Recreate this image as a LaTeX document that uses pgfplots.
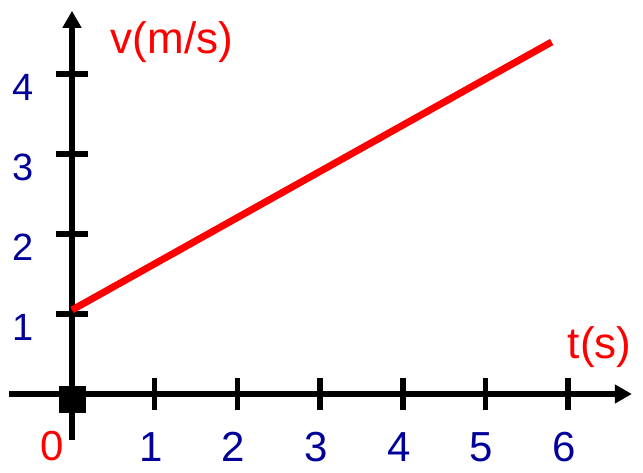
\documentclass[border=0pt]{standalone}
\usepackage{fontspec}
\setmainfont{Liberation Sans}
\usepackage{pgfplots}
\pgfplotsset{compat=1.18}
\usetikzlibrary{arrows.meta}
\definecolor{tickblue}{RGB}{0,0,153}
\begin{document}
\begin{tikzpicture}
\begin{axis}[
  x=82.7pt, y=80pt,
  anchor=origin, at={(0pt,0pt)},
  axis lines=middle,
  xmin=-0.762, xmax=6.77, ymin=-0.575, ymax=4.79,
  axis line style={line width=6pt, black},
  every inner x axis line/.append style={-{Triangle[width=18pt,length=17pt]}},
  every inner y axis line/.append style={-{Triangle[width=18pt,length=17pt]}},
  xtick={1,2,3,4,5,6}, ytick={1,2,3,4},
  tick style={line width=5.5pt, black},
  major tick length=32pt,
  tick align=center,
  /pgf/number format/assume math mode=true,
  xticklabel style={anchor=center, inner sep=0pt, xshift=-4pt, yshift=-37pt, text=tickblue, font=\fontsize{42pt}{44pt}\selectfont},
  yticklabel style={anchor=center, inner sep=0pt, xshift=-33pt, yshift=-13pt, text=tickblue, font=\fontsize{38pt}{40pt}\selectfont},
  clip=false,
]
\addplot[red, line width=7pt] coordinates {(0,1.05) (5.8,4.4)};
\addplot[only marks, mark=square*, mark size=13pt, line width=1pt, black] coordinates {(0,-0.0625)};
\node[red, inner sep=0pt, font=\fontsize{42pt}{44pt}\selectfont, anchor=center] at (axis cs:-0.242,-0.65) {0};
\node[red, font=\fontsize{44pt}{46pt}\selectfont, anchor=center] at (axis cs:1.21,4.4) {v(m/s)};
\node[red, font=\fontsize{44pt}{46pt}\selectfont, anchor=center] at (axis cs:6.38,0.59) {t(s)};
\end{axis}
\pgfresetboundingbox
\path[use as bounding box] (-72pt,-78pt) rectangle (571pt,394pt);
\end{tikzpicture}
\end{document}
